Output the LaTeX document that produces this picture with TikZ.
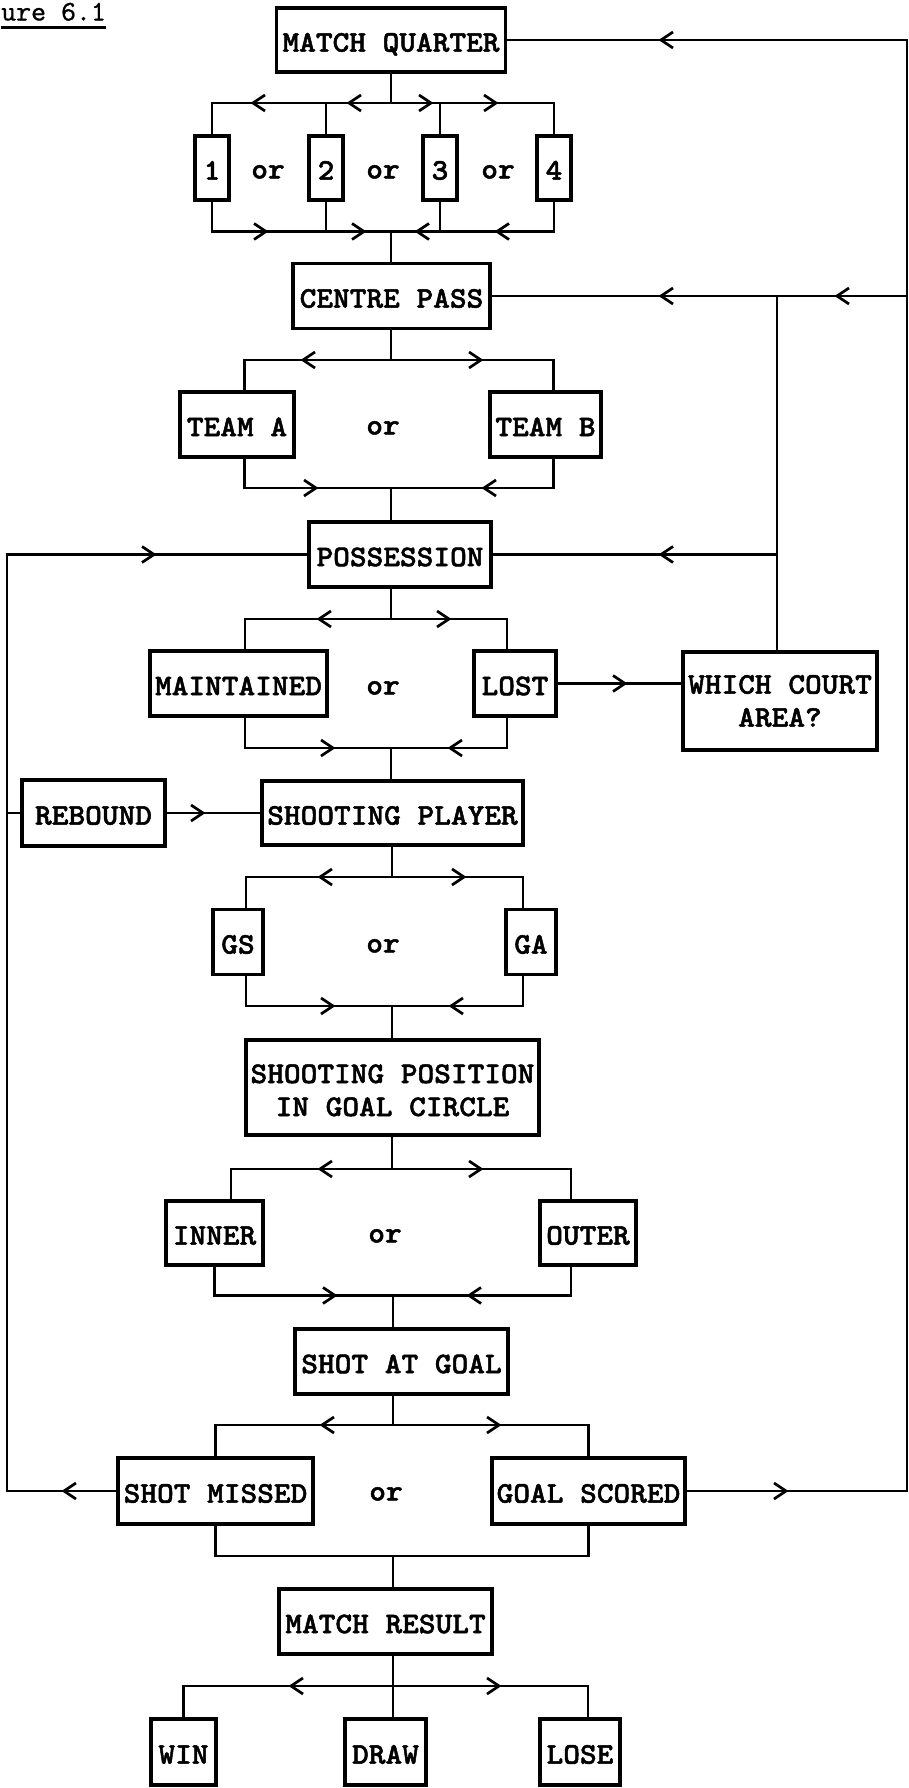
\documentclass[tikz,border=0pt]{standalone}
\usepackage{fontspec}
\newfontfamily\boxfont{lmmonolt10-bold}[Extension=.otf,FakeStretch=1.06,FakeBold=1.6]
\newfontfamily\titlefont{lmmono10-regular}[Extension=.otf,FakeBold=0.8]
\begin{document}
\begin{tikzpicture}[x=1pt,y=-1pt,
  conn/.style={line width=2.7pt},
  chev/.style={line width=2.7pt, line join=miter},
  boxbase/.style={draw, line width=3.2pt, inner sep=0pt,
    font=\boxfont\fontsize{30}{33}\selectfont},
  box/.style={boxbase, text height=23.3pt, text depth=0pt},
  tallbox/.style={boxbase, align=center},
  ortext/.style={inner sep=0pt, font=\boxfont\fontsize{30}{33}\selectfont,
    text height=12.9pt, text depth=0pt},
  lchev/.pic={\draw[chev] (6,-8) -- (-6,0) -- (6,8);},
  rchev/.pic={\draw[chev] (-6,-8) -- (6,0) -- (-6,8);},
]
\fill[white] (0,0) rectangle (909,1788);
\useasboundingbox (0,0) rectangle (909,1788);

% caption
\node[anchor=base west, inner sep=0pt, font=\titlefont\fontsize{28.5}{30}\selectfont] (ttl) at (1,20.5) {ure 6.1};
\draw[line width=2.8pt] ([yshift=-7pt]ttl.base west) -- ([yshift=-7pt]ttl.base east);

% boxes
\node[box, minimum width=229pt, minimum height=64pt] (mq) at (391,40) {MATCH QUARTER};
\node[box, minimum width=34pt, minimum height=64pt] (q1) at (212,168) {1};
\node[box, minimum width=34pt, minimum height=64pt] (q2) at (326,168) {2};
\node[box, minimum width=34pt, minimum height=64pt] (q3) at (440,168) {3};
\node[box, minimum width=34pt, minimum height=64pt] (q4) at (554,168) {4};
\node[ortext] (or1) at (268,172) {or};
\node[ortext] (or2) at (383,172) {or};
\node[ortext] (or3) at (498,172) {or};

\node[box, minimum width=197pt, minimum height=65pt] (cp) at (391.5,296) {CENTRE PASS};
\node[box, minimum width=114pt, minimum height=65pt] (ta) at (237,424.5) {TEAM A};
\node[box, minimum width=111pt, minimum height=65pt] (tb) at (545.5,424.5) {TEAM B};
\node[ortext] (orT) at (383,428) {or};

\node[box, minimum width=182pt, minimum height=65pt] (pos) at (400,554.5) {POSSESSION};
\node[box, minimum width=177pt, minimum height=65pt] (mt) at (238.5,683.5) {MAINTAINED};
\node[box, minimum width=82pt, minimum height=65pt] (lost) at (515,683.5) {LOST};
\node[ortext] (orM) at (383,688) {or};
\node[tallbox, minimum width=194pt, minimum height=98pt] (wca) at (780,701) {WHICH COURT\\AREA?};

\node[box, minimum width=261pt, minimum height=64pt] (sp) at (392.5,813) {SHOOTING PLAYER};
\node[box, minimum width=143pt, minimum height=66pt] (reb) at (93.5,813) {REBOUND};
\node[box, minimum width=50pt, minimum height=65pt] (gs) at (238,942) {GS};
\node[box, minimum width=50pt, minimum height=65pt] (ga) at (531,942) {GA};
\node[ortext] (orG) at (383,946) {or};

\node[tallbox, minimum width=293pt, minimum height=95pt, text height=57pt, text depth=0pt] (spos) at (392.5,1087.5) {SHOOTING POSITION\\\ IN GOAL CIRCLE\ \ };
\node[box, minimum width=97pt, minimum height=64pt] (inner) at (214.5,1233) {INNER};
\node[box, minimum width=96pt, minimum height=64pt] (outer) at (588,1233) {OUTER};
\node[ortext] (orI) at (385,1236) {or};

\node[box, minimum width=213pt, minimum height=65pt] (sag) at (401.5,1361.5) {SHOT AT GOAL};
\node[box, minimum width=195pt, minimum height=66pt] (sm) at (215.5,1491) {SHOT MISSED};
\node[box, minimum width=193pt, minimum height=66pt] (gsc) at (588.5,1491) {GOAL SCORED};
\node[ortext] (orS) at (386,1494) {or};

\node[box, minimum width=213pt, minimum height=65pt] (mr) at (385.5,1621.5) {MATCH RESULT};
\node[box, minimum width=65pt, minimum height=66pt] (win) at (183.5,1752) {WIN};
\node[box, minimum width=81pt, minimum height=66pt] (drw) at (385.5,1752) {DRAW};
\node[box, minimum width=80pt, minimum height=66pt] (lose) at (580,1752) {LOSE};

% junction points
\coordinate (j1t) at (391,103);   \coordinate (j1b) at (391,231.5);
\coordinate (j2t) at (391,360);   \coordinate (j2b) at (391,488);
\coordinate (j3t) at (391,619);   \coordinate (j3b) at (391,748);
\coordinate (j4t) at (392,877);   \coordinate (j4b) at (392,1006);
\coordinate (j5t) at (392,1169);  \coordinate (j5b) at (393,1295.5);
\coordinate (j6t) at (393,1425);  \coordinate (j6b) at (393,1556);
\coordinate (j7) at (393,1686);
\coordinate (rTop) at (907,40);   \coordinate (rBot) at (907,1491);
\coordinate (rCP) at (907,296);   \coordinate (jW) at (777,296);
\coordinate (lTop) at (7,554.5);  \coordinate (lBot) at (7,1491);

% match quarter
\draw[conn] (mq.south) -- (j1t);
\draw[conn] (q1.north) |- (j1t) -| (q4.north);
\draw[conn] (q2.north) -- (q2.north |- j1t);
\draw[conn] (q3.north) -- (q3.north |- j1t);
\draw[conn] (q1.south) |- (j1b) -| (q4.south);
\draw[conn] (q2.south) -- (q2.south |- j1b);
\draw[conn] (q3.south) -- (q3.south |- j1b);
\draw[conn] (j1b) -- (j1b |- cp.north);
\pic at (259,103) {lchev}; \pic at (355,103) {lchev};
\pic at (425,103) {rchev}; \pic at (490,103) {rchev};
\pic at (260,231.5) {rchev}; \pic at (358,231.5) {rchev};
\pic at (423,231.5) {lchev}; \pic at (503,231.5) {lchev};

% centre pass
\draw[conn] (j2t |- cp.south) -- (j2t);
\draw[conn] ([xshift=7.5pt]ta.north) |- (j2t) -| ([xshift=8pt]tb.north);
\draw[conn] ([xshift=7.5pt]ta.south) |- (j2b) -| ([xshift=8pt]tb.south);
\draw[conn] (j2b) -- (j2b |- pos.north);
\pic at (309,360) {lchev}; \pic at (475,360) {rchev};
\pic at (310,488) {rchev}; \pic at (490,488) {lchev};

% possession
\draw[conn] (j3t |- pos.south) -- (j3t);
\draw[conn] ([xshift=6.5pt]mt.north) |- (j3t) -| ([xshift=-8pt]lost.north);
\draw[conn] ([xshift=6.5pt]mt.south) |- (j3b) -| ([xshift=-8pt]lost.south);
\draw[conn] (j3b) -- (j3b |- sp.north);
\pic at (325,619) {lchev}; \pic at (443,619) {rchev};
\pic at (327,748) {rchev}; \pic at (456,748) {lchev};

% shooting player
\draw[conn] (j4t |- sp.south) -- (j4t);
\draw[conn] ([xshift=8pt]gs.north) |- (j4t) -| ([xshift=-8pt]ga.north);
\draw[conn] ([xshift=8pt]gs.south) |- (j4b) -| ([xshift=-8pt]ga.south);
\draw[conn] (j4b) -- (j4b |- spos.north);
\pic at (326,877) {lchev}; \pic at (458,877) {rchev};
\pic at (327,1006) {rchev}; \pic at (457,1006) {lchev};

% shooting position
\draw[conn] (j5t |- spos.south) -- (j5t);
\draw[conn] ([xshift=16.5pt]inner.north) |- (j5t) -| ([xshift=-17pt]outer.north);
\draw[conn] (inner.south) |- (j5b) -| ([xshift=-17pt]outer.south);
\draw[conn] (j5b) -- (j5b |- sag.north);
\pic at (326,1169) {lchev}; \pic at (475,1169) {rchev};
\pic at (329,1295.5) {rchev}; \pic at (475,1295.5) {lchev};

% shot at goal
\draw[conn] (j6t |- sag.south) -- (j6t);
\draw[conn] (sm.north) |- (j6t) -| (gsc.north);
\draw[conn] (sm.south) |- (j6b) -| (gsc.south);
\draw[conn] (j6b) -- (j6b |- mr.north);
\pic at (328,1425) {lchev}; \pic at (493,1425) {rchev};

% match result
\draw[conn] (j7 |- mr.south) -- (j7) -- (j7 |- drw.north);
\draw[conn] (win.north) |- (j7) -| ([xshift=8pt]lose.north);
\pic at (297,1686) {lchev}; \pic at (493,1686) {rchev};

% return loops
\draw[conn] (gsc.east) -- (rBot) -- (rTop) -- (mq.east);
\draw[conn] (rCP) -- (cp.east);
\draw[conn] (jW |- wca.north) -- (jW);
\draw[conn] (jW |- pos.east) -- (pos.east);
\draw[conn] (lost.east) -- (lost.east -| wca.west);
\draw[conn] (sm.west) -- (lBot) -- (lTop) -- (pos.west);
\draw[conn] (reb.west -| lTop) -- (reb.west);
\draw[conn] (reb.east) -- (sp.west);
\pic at (780,1491) {rchev}; \pic at (667,40) {lchev};
\pic at (843,296) {lchev}; \pic at (667,296) {lchev};
\pic at (667,554.5) {lchev}; \pic at (619,683.5) {rchev};
\pic at (70,1491) {lchev}; \pic at (148,554.5) {rchev};
\pic at (197,813) {rchev};
\end{tikzpicture}
\end{document}
